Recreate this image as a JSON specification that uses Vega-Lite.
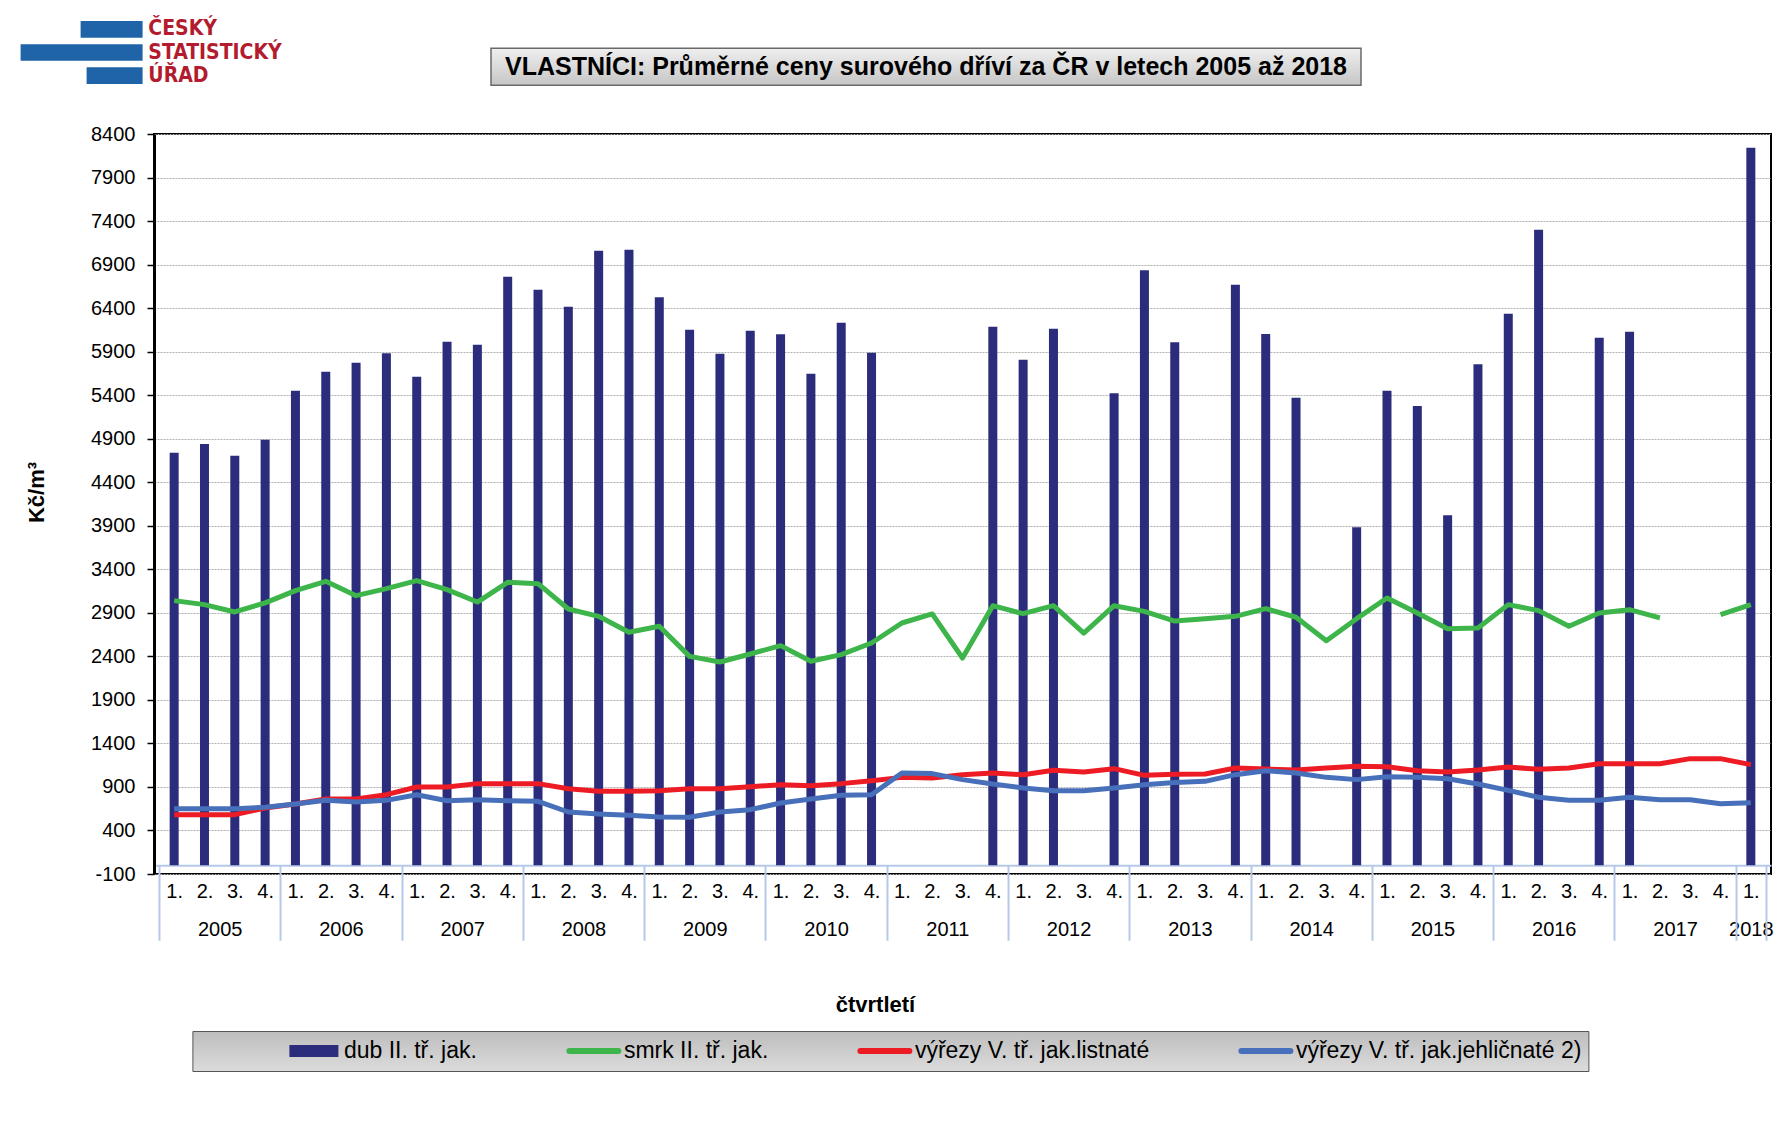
{
  "$schema": "https://vega.github.io/schema/vega-lite/v6.json",
  "background": "white",
  "padding": {"left": 20, "top": 18, "right": 5, "bottom": 5},
  "config": {"font": "Liberation Sans", "view": {"stroke": null}},
  "spacing": 10,
  "vconcat": [
    {
      "hconcat": [
        {
          "width": 122,
          "height": 92,
          "data": {"values": [
            {"line": "ČESKÝ", "bar": 62},
            {"line": "STATISTICKÝ", "bar": 122},
            {"line": "ÚŘAD", "bar": 56}
          ]},
          "encoding": {
            "y": {"field": "line", "type": "nominal", "sort": null, "axis": null,
                  "scale": {"paddingInner": 0.28, "paddingOuter": 0.625, "align": 0}}
          },
          "layer": [
            {
              "mark": {"type": "bar", "color": "#1f64a9"},
              "encoding": {
                "x": {"field": "bar", "type": "quantitative", "axis": null,
                      "scale": {"domain": [0, 122], "range": [-11.4, -133.4], "nice": false, "zero": false}}
              }
            },
            {
              "mark": {"type": "text", "align": "left", "dx": 5.7, "color": "#b21c2e",
                       "font": "Liberation Sans Narrow, Arial Narrow, DejaVu Sans Condensed, sans-serif",
                       "fontSize": 21, "fontWeight": "bold"},
              "encoding": {
                "x": {"datum": 0, "type": "quantitative"},
                "text": {"field": "line"}
              }
            }
          ]
        },
        {
          "width": 870,
          "height": 37,
          "view": {
            "fill": {"gradient": "linear", "x1": 0, "y1": 0, "x2": 0, "y2": 1,
                     "stops": [{"offset": 0, "color": "#efefef"}, {"offset": 1, "color": "#c6c6c6"}]},
            "stroke": "#6a6a6a", "strokeWidth": 1.5
          },
          "data": {"values": [{"title": "VLASTNÍCI: Průměrné ceny surového dříví za ČR v letech 2005 až 2018"}]},
          "mark": {"type": "text", "font": "Liberation Sans", "fontSize": 25, "fontWeight": "bold", "color": "black"},
          "encoding": {"text": {"field": "title"}}
        }
      ],
      "spacing": 208,
      "center": true
    },
    {
      "width": 1617,
      "height": 740,
      "view": {"stroke": "black", "strokeWidth": 2},
      "data": {"values": [
        {"t": 2005.125, "dub": 4739, "smrk": 3040, "listnate": 582, "jehlicnate": 650},
        {"t": 2005.375, "dub": 4839, "smrk": 2994, "listnate": 582, "jehlicnate": 650},
        {"t": 2005.625, "dub": 4705, "smrk": 2910, "listnate": 582, "jehlicnate": 650},
        {"t": 2005.875, "dub": 4889, "smrk": 3015, "listnate": 658, "jehlicnate": 666},
        {"t": 2006.125, "dub": 5452, "smrk": 3155, "listnate": 704, "jehlicnate": 704},
        {"t": 2006.375, "dub": 5670, "smrk": 3262, "listnate": 762, "jehlicnate": 746},
        {"t": 2006.625, "dub": 5773, "smrk": 3097, "listnate": 762, "jehlicnate": 727},
        {"t": 2006.875, "dub": 5881, "smrk": 3178, "listnate": 811, "jehlicnate": 746},
        {"t": 2007.125, "dub": 5612, "smrk": 3270, "listnate": 899, "jehlicnate": 811},
        {"t": 2007.375, "dub": 6015, "smrk": 3166, "listnate": 899, "jehlicnate": 742},
        {"t": 2007.625, "dub": 5980, "smrk": 3024, "listnate": 938, "jehlicnate": 754},
        {"t": 2007.875, "dub": 6761, "smrk": 3250, "listnate": 938, "jehlicnate": 742},
        {"t": 2008.125, "dub": 6612, "smrk": 3235, "listnate": 938, "jehlicnate": 735},
        {"t": 2008.375, "dub": 6417, "smrk": 2944, "listnate": 880, "jehlicnate": 612},
        {"t": 2008.625, "dub": 7060, "smrk": 2860, "listnate": 850, "jehlicnate": 589},
        {"t": 2008.875, "dub": 7071, "smrk": 2676, "listnate": 850, "jehlicnate": 574},
        {"t": 2009.125, "dub": 6524, "smrk": 2745, "listnate": 857, "jehlicnate": 555},
        {"t": 2009.375, "dub": 6152, "smrk": 2400, "listnate": 880, "jehlicnate": 551},
        {"t": 2009.625, "dub": 5877, "smrk": 2335, "listnate": 880, "jehlicnate": 612},
        {"t": 2009.875, "dub": 6141, "smrk": 2427, "listnate": 903, "jehlicnate": 639},
        {"t": 2010.125, "dub": 6099, "smrk": 2523, "listnate": 926, "jehlicnate": 716},
        {"t": 2010.375, "dub": 5647, "smrk": 2343, "listnate": 915, "jehlicnate": 762},
        {"t": 2010.625, "dub": 6233, "smrk": 2420, "listnate": 938, "jehlicnate": 804},
        {"t": 2010.875, "dub": 5888, "smrk": 2553, "listnate": 972, "jehlicnate": 811},
        {"t": 2011.125, "dub": null, "smrk": 2783, "listnate": 1010, "jehlicnate": 1060},
        {"t": 2011.375, "dub": null, "smrk": 2887, "listnate": 1003, "jehlicnate": 1053},
        {"t": 2011.625, "dub": null, "smrk": 2381, "listnate": 1041, "jehlicnate": 984},
        {"t": 2011.875, "dub": 6187, "smrk": 2982, "listnate": 1060, "jehlicnate": 934},
        {"t": 2012.125, "dub": 5808, "smrk": 2890, "listnate": 1041, "jehlicnate": 888},
        {"t": 2012.375, "dub": 6164, "smrk": 2982, "listnate": 1091, "jehlicnate": 857},
        {"t": 2012.625, "dub": null, "smrk": 2668, "listnate": 1072, "jehlicnate": 857},
        {"t": 2012.875, "dub": 5421, "smrk": 2982, "listnate": 1110, "jehlicnate": 888},
        {"t": 2013.125, "dub": 6834, "smrk": 2917, "listnate": 1033, "jehlicnate": 926},
        {"t": 2013.375, "dub": 6007, "smrk": 2806, "listnate": 1045, "jehlicnate": 950},
        {"t": 2013.625, "dub": null, "smrk": 2833, "listnate": 1049, "jehlicnate": 964},
        {"t": 2013.875, "dub": 6669, "smrk": 2860, "listnate": 1118, "jehlicnate": 1041},
        {"t": 2014.125, "dub": 6103, "smrk": 2948, "listnate": 1106, "jehlicnate": 1087},
        {"t": 2014.375, "dub": 5371, "smrk": 2849, "listnate": 1095, "jehlicnate": 1060},
        {"t": 2014.625, "dub": null, "smrk": 2580, "listnate": 1118, "jehlicnate": 1010},
        {"t": 2014.875, "dub": 3882, "smrk": 2833, "listnate": 1137, "jehlicnate": 984},
        {"t": 2015.125, "dub": 5452, "smrk": 3070, "listnate": 1133, "jehlicnate": 1018},
        {"t": 2015.375, "dub": 5276, "smrk": 2898, "listnate": 1087, "jehlicnate": 1010},
        {"t": 2015.625, "dub": 4020, "smrk": 2718, "listnate": 1072, "jehlicnate": 995},
        {"t": 2015.875, "dub": 5754, "smrk": 2726, "listnate": 1095, "jehlicnate": 934},
        {"t": 2016.125, "dub": 6336, "smrk": 2994, "listnate": 1129, "jehlicnate": 861},
        {"t": 2016.375, "dub": 7301, "smrk": 2925, "listnate": 1102, "jehlicnate": 781},
        {"t": 2016.625, "dub": null, "smrk": 2745, "listnate": 1118, "jehlicnate": 746},
        {"t": 2016.875, "dub": 6061, "smrk": 2898, "listnate": 1167, "jehlicnate": 746},
        {"t": 2017.125, "dub": 6129, "smrk": 2936, "listnate": 1167, "jehlicnate": 781},
        {"t": 2017.375, "dub": null, "smrk": 2841, "listnate": 1167, "jehlicnate": 754},
        {"t": 2017.625, "dub": null, "smrk": null, "listnate": 1225, "jehlicnate": 754},
        {"t": 2017.875, "dub": null, "smrk": 2879, "listnate": 1225, "jehlicnate": 708},
        {"t": 2018.125, "dub": 8243, "smrk": 2994, "listnate": 1156, "jehlicnate": 719}
      ]},
      "resolve": {"axis": {"x": "independent"}},
      "layer": [
        {
          "mark": {"type": "bar", "width": 9, "color": "#2b2c7c"},
          "encoding": {
            "x": {
              "field": "t", "type": "quantitative",
              "scale": {"domain": [2005, 2018.25], "nice": false, "zero": false},
              "axis": {
                "orient": "bottom",
                "values": [2005.125, 2005.375, 2005.625, 2005.875, 2006.125, 2006.375, 2006.625, 2006.875,
                           2007.125, 2007.375, 2007.625, 2007.875, 2008.125, 2008.375, 2008.625, 2008.875,
                           2009.125, 2009.375, 2009.625, 2009.875, 2010.125, 2010.375, 2010.625, 2010.875,
                           2011.125, 2011.375, 2011.625, 2011.875, 2012.125, 2012.375, 2012.625, 2012.875,
                           2013.125, 2013.375, 2013.625, 2013.875, 2014.125, 2014.375, 2014.625, 2014.875,
                           2015.125, 2015.375, 2015.625, 2015.875, 2016.125, 2016.375, 2016.625, 2016.875,
                           2017.125, 2017.375, 2017.625, 2017.875, 2018.125,
                           2005.5, 2006.5, 2007.5, 2008.5, 2009.5, 2010.5, 2011.5, 2012.5, 2013.5,
                           2014.5, 2015.5, 2016.5, 2017.5],
                "labelExpr": "(datum.value - floor(datum.value)) == 0.5 ? ['', '' + floor(datum.value)] : (datum.value == 2018.125 ? ['1.', '2018'] : (floor((datum.value - floor(datum.value)) * 4) + 1) + '.')",
                "labelOverlap": false,
                "labelFlush": false,
                "labelBound": false,
                "ticks": false,
                "tickSize": 0,
                "domain": false,
                "grid": false,
                "labelFont": "Liberation Sans",
                "labelFontSize": 20,
                "labelColor": "black",
                "labelPadding": 7,
                "labelLineHeight": 38,
                "title": "čtvrtletí",
                "titleFont": "Liberation Sans",
                "titleFontSize": 22,
                "titleFontWeight": "bold",
                "titleColor": "black",
                "titlePadding": 55,
                "titleX": 721
              }
            },
            "y": {
              "field": "dub", "type": "quantitative",
              "scale": {"domain": [-100, 8400], "nice": false, "zero": false},
              "axis": {
                "values": [-100, 400, 900, 1400, 1900, 2400, 2900, 3400, 3900, 4400, 4900, 5400, 5900, 6400, 6900, 7400, 7900, 8400],
                "labelExpr": "'' + datum.value",
                "grid": true,
                "gridColor": "#b0b0b0",
                "gridDash": [2, 1],
                "gridWidth": 1,
                "domainColor": "black",
                "domainWidth": 3,
                "tickColor": "black",
                "tickSize": 7,
                "tickWidth": 1.5,
                "labelFont": "Liberation Sans",
                "labelFontSize": 20,
                "labelColor": "black",
                "labelPadding": 12,
                "title": "Kč/m³",
                "titleFont": "Liberation Sans",
                "titleFontSize": 22,
                "titleFontWeight": "bold",
                "titleColor": "black",
                "titlePadding": 42,
                "titleY": 358
              }
            },
            "y2": {"datum": 0}
          }
        },
        {
          "transform": [{"fold": ["smrk", "listnate", "jehlicnate"], "as": ["series", "value"]}],
          "mark": {"type": "line", "strokeWidth": 5, "strokeJoin": "round", "invalid": "break-paths-filter-domains"},
          "encoding": {
            "x": {
              "field": "t", "type": "quantitative",
              "axis": {
                "orient": "bottom",
                "values": [2005, 2006, 2007, 2008, 2009, 2010, 2011, 2012, 2013, 2014, 2015, 2016, 2017, 2018, 2018.25],
                "offset": -8.7,
                "domain": true,
                "domainColor": "#b6c8e8",
                "domainWidth": 2,
                "ticks": true,
                "tickColor": "#b6c8e8",
                "tickWidth": 2,
                "tickSize": 75,
                "labels": false,
                "grid": false,
                "title": null
              }
            },
            "y": {
              "field": "value", "type": "quantitative",
              "axis": {
                "values": [-100, 400, 900, 1400, 1900, 2400, 2900, 3400, 3900, 4400, 4900, 5400, 5900, 6400, 6900, 7400, 7900, 8400],
                "labelExpr": "'' + datum.value",
                "grid": true,
                "gridColor": "#b0b0b0",
                "gridDash": [2, 1],
                "gridWidth": 1,
                "domainColor": "black",
                "domainWidth": 3,
                "tickColor": "black",
                "tickSize": 7,
                "tickWidth": 1.5,
                "labelFont": "Liberation Sans",
                "labelFontSize": 20,
                "labelColor": "black",
                "labelPadding": 12,
                "title": "Kč/m³",
                "titleFont": "Liberation Sans",
                "titleFontSize": 22,
                "titleFontWeight": "bold",
                "titleColor": "black",
                "titlePadding": 42,
                "titleY": 358
              }
            },
            "color": {
              "field": "series", "type": "nominal",
              "scale": {"domain": ["dub", "smrk", "listnate", "jehlicnate"],
                        "range": ["#2b2c7c", "#3db54a", "#ed1c24", "#4870ba"]},
              "legend": {
                "orient": "none",
                "legendX": 38.4,
                "legendY": 1010,
                "direction": "horizontal",
                "columns": 4,
                "title": null,
                "padding": 7,
                "clipHeight": 26,
                "symbolOffset": 103,
                "columnPadding": 2,
                "labelOffset": 18.5,
                "symbolType": "stroke",
                "symbolSize": 2401,
                "symbolStrokeWidth": 6,
                "labelFont": "Liberation Sans",
                "labelFontSize": 23,
                "labelColor": "black",
                "labelLimit": 500,
                "labelExpr": "datum.label == 'dub' ? 'dub II. tř. jak.' : (datum.label == 'smrk' ? 'smrk II. tř. jak.' : (datum.label == 'listnate' ? 'výřezy V. tř. jak.listnaté' : 'výřezy V. tř. jak.jehličnaté 2)'))",
                "strokeColor": "#555555",
                "encode": {
                  "legend": {
                    "update": {
                      "fill": {"value": {"gradient": "linear", "x1": 0, "y1": 0, "x2": 0, "y2": 1,
                                         "stops": [{"offset": 0, "color": "#bdbdbd"}, {"offset": 1, "color": "#dcdcdc"}]}}
                    }
                  },
                  "symbols": {
                    "update": {
                      "shape": {"signal": "datum.value === 'dub' ? 'M-1,-0.24H1V0.24H-1Z' : 'stroke'"},
                      "fill": {"signal": "datum.value === 'dub' ? '#2b2c7c' : 'transparent'"},
                      "stroke": {"signal": "datum.value === 'smrk' ? '#3db54a' : (datum.value === 'listnate' ? '#ed1c24' : (datum.value === 'jehlicnate' ? '#4870ba' : 'transparent'))"},
                      "strokeWidth": {"signal": "datum.value === 'dub' ? 0 : 6"},
                      "strokeCap": {"value": "round"},
                      "opacity": {"value": 1}
                    }
                  }
                }
              }
            }
          }
        }
      ]
    }
  ]
}
